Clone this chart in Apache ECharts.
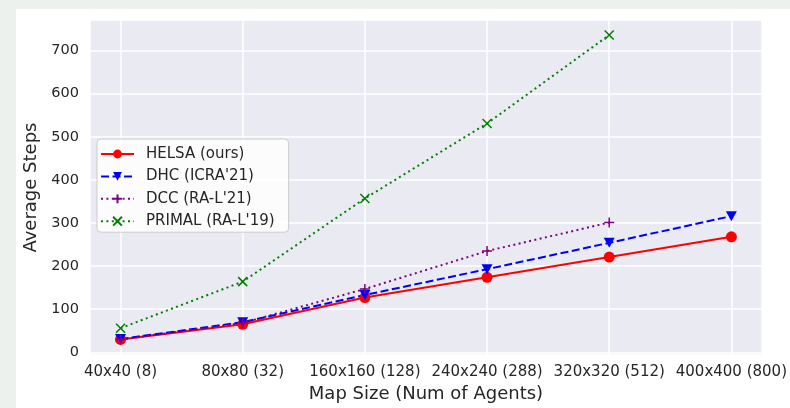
<!DOCTYPE html>
<html>
<head>
<meta charset="utf-8">
<script src="https://cdn.jsdelivr.net/npm/echarts@6/dist/echarts.min.js"></script>
<style>
  html, body { margin: 0; padding: 0; background: #edf1ee; }
  #wrap { position: absolute; left: 16px; top: 9px; width: 774px; height: 399px; background: #ffffff; }
  #chart { position: absolute; left: 0; top: 0; width: 790px; height: 408px; }
</style>
</head>
<body>
<div id="wrap"></div>
<div id="chart"></div>
<script>
// ---- data ----
const categories = ['40x40 (8)', '80x80 (32)', '160x160 (128)', '240x240 (288)', '320x320 (512)', '400x400 (800)'];
const seriesNames = ['HELSA (ours)', "DHC (ICRA'21)", "DCC (RA-L'21)", "PRIMAL (RA-L'19)"];
const helsa  = [30, 65, 127, 174, 221, 268];
const dhc    = [31, 70, 133, 193, 254, 316];
const dcc    = [30, 68, 147, 235, 301];
const primal = [56, 164, 357, 531, 736];
const xTitle = 'Map Size (Num of Agents)';
const yTitle = 'Average Steps';

const toPairs = arr => arr.map((v, i) => [i, v]);
const FONT = 'DejaVu Sans';
const TXT = '#262626';

const chart = echarts.init(document.getElementById('chart'), null, { renderer: 'canvas' });

const plusPath = 'path://M5,0L5,10M0,5L10,5';
const crossPath = 'path://M0,0L10,10M10,0L0,10';

const option = {
  backgroundColor: 'transparent',
  animation: false,
  grid: { left: 90, right: 24, top: 20, bottom: 52, show: true, backgroundColor: '#eaeaf2', borderWidth: 0 },
  xAxis: {
    type: 'value',
    min: -0.25, max: 5.25,
    splitNumber: 5,
    name: xTitle,
    nameLocation: 'middle',
    nameGap: 29,
    nameTextStyle: { fontFamily: FONT, fontSize: 18, color: TXT },
    axisLine: { show: false },
    axisTick: { show: false },
    axisLabel: {
      fontFamily: FONT, fontSize: 15, color: TXT, margin: 10,
      showMinLabel: false, showMaxLabel: false,
      formatter: v => (Number.isInteger(v) && categories[v] !== undefined) ? categories[v] : ''
    },
    splitLine: { show: true, lineStyle: { color: '#ffffff', width: 1.5 } }
  },
  yAxis: {
    type: 'value',
    min: -6.4, max: 771,
    splitNumber: 8,
    name: yTitle,
    nameLocation: 'middle',
    nameGap: 43,
    nameTextStyle: { fontFamily: FONT, fontSize: 18, color: TXT },
    axisLine: { show: false },
    axisTick: { show: false },
    axisLabel: {
      fontFamily: FONT, fontSize: 14.5, color: TXT, margin: 11,
      showMinLabel: false, showMaxLabel: false,
      formatter: v => (Math.abs(v % 100) < 1e-6) ? String(v) : ''
    },
    splitLine: { show: true, lineStyle: { color: '#ffffff', width: 1.5 } }
  },
  legend: {
    orient: 'vertical',
    left: 97, top: 139,
    padding: [7, 14, 3, 3],
    itemWidth: 33,
    itemHeight: 11,
    itemGap: 6.4,
    backgroundColor: 'rgba(255,255,255,0.85)',
    borderColor: '#cccccc',
    borderWidth: 1,
    borderRadius: 4,
    textStyle: { fontFamily: FONT, fontSize: 15, color: TXT, lineHeight: 16, padding: [0, 0, 0, 7] },
    data: seriesNames
  },
  series: [
    {
      name: seriesNames[0], type: 'line', data: toPairs(helsa),
      symbol: 'circle', symbolSize: 11,
      lineStyle: { color: '#ff0000', width: 2, type: 'solid' },
      itemStyle: { color: '#ff0000', borderColor: '#ff0000', borderWidth: 0 },
      emphasis: { disabled: true }
    },
    {
      name: seriesNames[1], type: 'line', data: toPairs(dhc),
      symbol: 'triangle', symbolRotate: 180, symbolSize: [11, 10],
      lineStyle: { color: '#0000ff', width: 2, type: [8, 3.5] },
      itemStyle: { color: '#0000ff', borderColor: '#0000ff', borderWidth: 0 },
      emphasis: { disabled: true }
    },
    {
      name: seriesNames[2], type: 'line', data: toPairs(dcc),
      symbol: plusPath, symbolSize: 10,
      lineStyle: { color: '#800080', width: 2, type: [2, 3.4] },
      itemStyle: { color: '#800080', borderColor: '#800080', borderWidth: 1.5 },
      emphasis: { disabled: true }
    },
    {
      name: seriesNames[3], type: 'line', data: toPairs(primal),
      symbol: crossPath, symbolSize: 9,
      lineStyle: { color: '#008000', width: 2, type: [2, 3.4] },
      itemStyle: { color: '#008000', borderColor: '#008000', borderWidth: 1.5 },
      emphasis: { disabled: true }
    }
  ]
};
chart.setOption(option);
</script>
</body>
</html>
